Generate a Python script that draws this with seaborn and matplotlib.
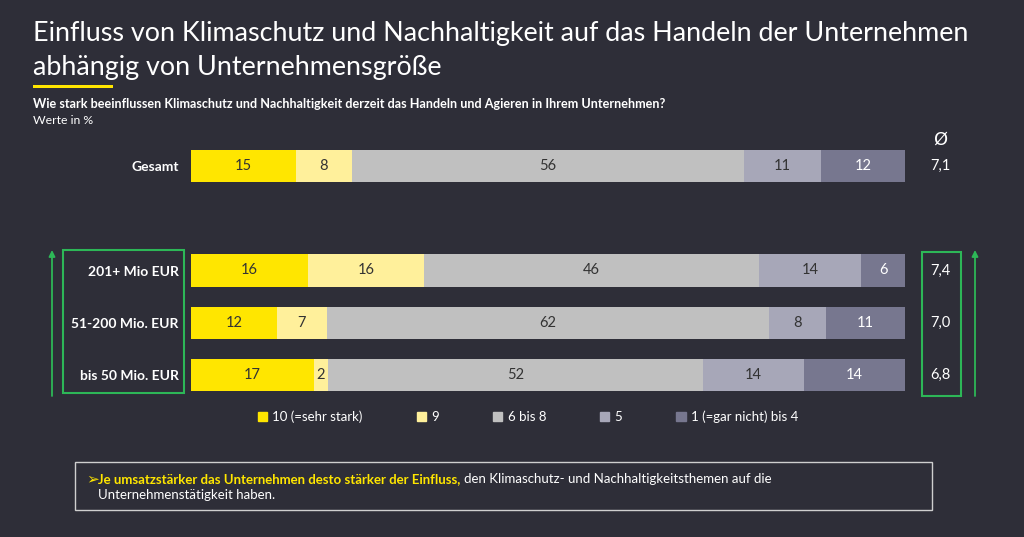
import numpy as np
import matplotlib.pyplot as plt
import seaborn as sns
from matplotlib.patches import Rectangle, Patch
from matplotlib.transforms import blended_transform_factory

groups = ["Gesamt", "", "201+ Mio EUR", "51-200 Mio. EUR", "bis 50 Mio. EUR"]
segments = ["10 (=sehr stark)", "9", "6 bis 8", "5", "1 (=gar nicht) bis 4"]
v10 = [15, 0, 16, 12, 17]
v9 = [8, 0, 16, 7, 2]
v68 = [56, 0, 46, 62, 52]
v5 = [11, 0, 14, 8, 14]
v14 = [12, 0, 6, 11, 14]
means = ["7,1", "", "7,4", "7,0", "6,8"]

colors = ["#ffe600", "#fff09b", "#c0c0c0", "#a7a7b8", "#77778f"]
text_colors = ["#333333", "#333333", "#333333", "#333333", "white"]
bg = "#2e2e38"
green = "#2db757"

sns.set_style("dark", {"axes.facecolor": bg, "figure.facecolor": bg})
plt.rcParams['font.family'] = ['Lato', 'DejaVu Sans']

W, H = 1024, 537
def fx(px): return px / W
def fy(py): return 1 - py / H

vals = np.array([v10, v9, v68, v5, v14], dtype=float).T
tot = vals.sum(axis=1)
tot[tot == 0] = 1
share = vals / tot[:, None] * 100
cum = share.cumsum(axis=1)

fig = plt.figure(figsize=(10.24, 5.37), dpi=100)
ax = fig.add_axes([fx(191), fy(401), fx(905) - fx(191), fy(140) - fy(401)])

# stacked bars: draw cumulative totals from the largest down
for j in reversed(range(5)):
    sns.barplot(x=cum[:, j], y=groups, orient="h", color=colors[j],
                saturation=1, width=0.62, linewidth=0, ax=ax)

for i, g in enumerate(groups):
    if g == "":
        continue
    for j in range(5):
        ax.text(cum[i, j] - share[i, j] / 2, i, f"{int(vals[i, j])}",
                ha="center", va="center", fontsize=10.5, color=text_colors[j])

ax.set_xlim(0, 100)
ax.set_ylim(4.5, -0.5)
ax.set_xlabel("")
ax.set_ylabel("")
ax.set_xticks([])
ax.tick_params(axis="y", length=0, pad=9)
for lab in ax.get_yticklabels():
    lab.set_color("white")
    lab.set_fontweight("bold")
    lab.set_fontsize(10)
for s in ax.spines.values():
    s.set_visible(False)

# average column
tr = blended_transform_factory(fig.transFigure, ax.transData)
ax.text(fx(940), -0.5, "Ø", transform=tr, ha="center", va="center",
        color="white", fontsize=13, family=["DejaVu Sans"])
for i, m in enumerate(means):
    ax.text(fx(940), i, m, transform=tr, ha="center", va="center",
            color="white", fontsize=10.5)

# titles
fig.text(fx(33), fy(34), "Einfluss von Klimaschutz und Nachhaltigkeit auf das Handeln der Unternehmen",
         color="white", fontsize=19.4, va="center")
fig.text(fx(33), fy(68), "abhängig von Unternehmensgröße",
         color="white", fontsize=19.4, va="center")
fig.add_artist(Rectangle((fx(33), fy(88)), fx(113) - fx(33), 3 / H,
                         transform=fig.transFigure, color="#ffe600", lw=0))
fig.text(fx(33), fy(104), "Wie stark beeinflussen Klimaschutz und Nachhaltigkeit derzeit das Handeln und Agieren in Ihrem Unternehmen?",
         color="white", fontsize=9.1, fontweight="bold", va="center")
fig.text(fx(33), fy(120), "Werte in %", color="white", fontsize=8.8, va="center")

# green boxes and arrows
fig.add_artist(Rectangle((fx(63), fy(393)), fx(184) - fx(63), (393 - 250) / H,
                         transform=fig.transFigure, fill=False, ec=green, lw=1.5))
fig.add_artist(Rectangle((fx(922), fy(396)), fx(961) - fx(922), (396 - 252) / H,
                         transform=fig.transFigure, fill=False, ec=green, lw=1.5))
for x in (52, 975):
    fig.add_artist(plt.Annotation("", xy=(fx(x), fy(250)), xytext=(fx(x), fy(396)),
                                  xycoords="figure fraction", textcoords="figure fraction",
                                  arrowprops=dict(arrowstyle="-|>", color=green, lw=1.3,
                                                  mutation_scale=9, shrinkA=0, shrinkB=0)))

# legend
handles = [Patch(color=c) for c in colors]
fig.legend(handles, segments, loc="center", bbox_to_anchor=(fx(528), fy(417)),
           ncol=5, frameon=False, labelcolor="white", fontsize=9.5,
           handlelength=0.7, handleheight=0.7, handletextpad=0.4, columnspacing=4.1)

# note box
fig.add_artist(Rectangle((fx(75), fy(510)), fx(932) - fx(75), (510 - 462) / H,
                         transform=fig.transFigure, fill=False, ec="#cfcfcf", lw=1))
fig.text(fx(86), fy(479), "➢", color="#ffe600", fontsize=11, va="center",
         family=["DejaVu Sans"])
t1 = fig.text(fx(98), fy(479), "Je umsatzstärker das Unternehmen desto stärker der Einfluss,",
              color="#ffe600", fontsize=9.5, fontweight="bold", va="center")
fig.canvas.draw()
ext = t1.get_window_extent(renderer=fig.canvas.get_renderer())
fig.text(ext.x1 / W + fx(4), fy(479),
         "den Klimaschutz- und Nachhaltigkeitsthemen auf die",
         color="white", fontsize=9.5, va="center")
fig.text(fx(98), fy(495), "Unternehmenstätigkeit haben.", color="white", fontsize=9.5, va="center")

fig.savefig("out.png", dpi=100, facecolor=bg)
